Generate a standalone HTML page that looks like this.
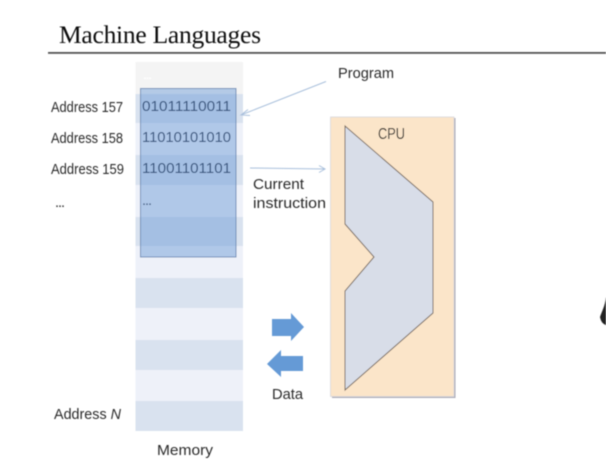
<!DOCTYPE html>
<html lang="en">
<head>
<meta charset="utf-8">
<title>Machine Languages</title>
<style>
html,body{margin:0;padding:0;background:#fff;}
body{width:606px;height:468px;overflow:hidden;}
svg{display:block;}
text{font-family:"Liberation Sans",sans-serif;font-size:14.5px;fill:#2b2b2b;}
</style>
</head>
<body>
<svg width="606" height="468" viewBox="0 0 606 468" xmlns="http://www.w3.org/2000/svg">
  <defs>
    <filter id="soft" x="-5%" y="-5%" width="110%" height="110%"><feGaussianBlur stdDeviation="0.4"/></filter>
  </defs>
  <rect width="606" height="468" fill="#fff"/>
  <g filter="url(#soft)">
    <text x="59" y="43" textLength="202" lengthAdjust="spacing" style="font-family:'Liberation Serif',serif;font-size:25.5px;fill:#111;">Machine Languages</text>
    <rect x="48" y="52" width="558" height="1.800" fill="#555"/>

    <!-- memory rows -->
    <rect x="135.500" y="62" width="107.500" height="32" fill="#f4f4f4"/>
    <rect x="135.500" y="94" width="107.500" height="29" fill="#d9e2ef"/>
    <rect x="135.500" y="123" width="107.500" height="32" fill="#eef1f9"/>
    <rect x="135.500" y="155" width="107.500" height="30" fill="#d9e2ef"/>
    <rect x="135.500" y="185" width="107.500" height="32" fill="#eef1f9"/>
    <rect x="135.500" y="217" width="107.500" height="29" fill="#d9e2ef"/>
    <rect x="135.500" y="246" width="107.500" height="32" fill="#eef1f9"/>
    <rect x="135.500" y="278" width="107.500" height="30" fill="#d9e2ef"/>
    <rect x="135.500" y="308" width="107.500" height="32" fill="#eef1f9"/>
    <rect x="135.500" y="340" width="107.500" height="30" fill="#d9e2ef"/>
    <rect x="135.500" y="370" width="107.500" height="31" fill="#eef1f9"/>
    <rect x="135.500" y="401" width="107.500" height="30" fill="#d9e2ef"/>
    <text x="143" y="79" textLength="9" style="fill:#fff">...</text>

    <!-- highlight -->
    <rect x="140.500" y="88.500" width="95.500" height="168.500" fill="#5b8fd2" fill-opacity="0.42" stroke="#6f8fb8" stroke-width="1"/>

    <!-- binary values -->
    <text x="142" y="111" textLength="89" lengthAdjust="spacingAndGlyphs" style="fill:#2f4f7a;font-size:15px">01011110011</text>
    <text x="142" y="142" textLength="89" lengthAdjust="spacingAndGlyphs" style="fill:#2f4f7a;font-size:15px">11010101010</text>
    <text x="142" y="173" textLength="89" lengthAdjust="spacingAndGlyphs" style="fill:#2f4f7a;font-size:15px">11001101101</text>
    <text x="142" y="205" textLength="10" style="fill:#2f4f7a">...</text>

    <!-- address labels -->
    <text x="51" y="112" textLength="72" lengthAdjust="spacingAndGlyphs">Address 157</text>
    <text x="51" y="143" textLength="72" lengthAdjust="spacingAndGlyphs">Address 158</text>
    <text x="51" y="174" textLength="73" lengthAdjust="spacingAndGlyphs">Address 159</text>
    <text x="55" y="207" textLength="10">...</text>
    <text x="54" y="419" textLength="67" lengthAdjust="spacingAndGlyphs">Address <tspan font-style="italic">N</tspan></text>
    <text x="157" y="455" textLength="56" lengthAdjust="spacingAndGlyphs">Memory</text>

    <!-- program arrow -->
    <text x="338" y="78" textLength="56" lengthAdjust="spacingAndGlyphs">Program</text>
    <path d="M326 81.500 L241 115 M248 109.500 L241 115 L250 115.500" fill="none" stroke="#a9c0dc" stroke-width="1"/>

    <!-- current instruction arrow -->
    <path d="M250 168 L325 169 M319 165.500 L325 169 L319 172.500" fill="none" stroke="#a9c0dc" stroke-width="1"/>
    <text x="253" y="189" textLength="51" lengthAdjust="spacingAndGlyphs">Current</text>
    <text x="253" y="208" textLength="73" lengthAdjust="spacingAndGlyphs">instruction</text>

    <!-- CPU -->
    <rect x="332" y="118" width="123.500" height="280" fill="#a9a9b5"/>
    <rect x="330.500" y="117" width="123.500" height="279.500" fill="#fbe5c9" stroke="#d8d8de" stroke-width="0.8"/>
    <polygon points="345,126 433,202 433,313 345,390 345,291 374,257 345,224" fill="#d8dde8" stroke="#76695f" stroke-width="1"/>
    <text x="378" y="139" textLength="27" lengthAdjust="spacingAndGlyphs" style="font-size:15.5px;fill:#1c1c1c">CPU</text>

    <!-- data arrows -->
    <polygon points="272,319 291,319 291,313 304,327 291,341 291,336 272,336" fill="#659ad6"/>
    <polygon points="267,364 281,350 281,356 303,356 303,371 281,371 281,377" fill="#659ad6"/>
    <text x="272" y="399" textLength="31" lengthAdjust="spacingAndGlyphs">Data</text>

    <!-- partial silhouette at right edge -->
    <path d="M606 297 C605 306 602 311 600 317 C601 322 603 324 606 325 Z" fill="#222"/>
  </g>
</svg>
</body>
</html>
